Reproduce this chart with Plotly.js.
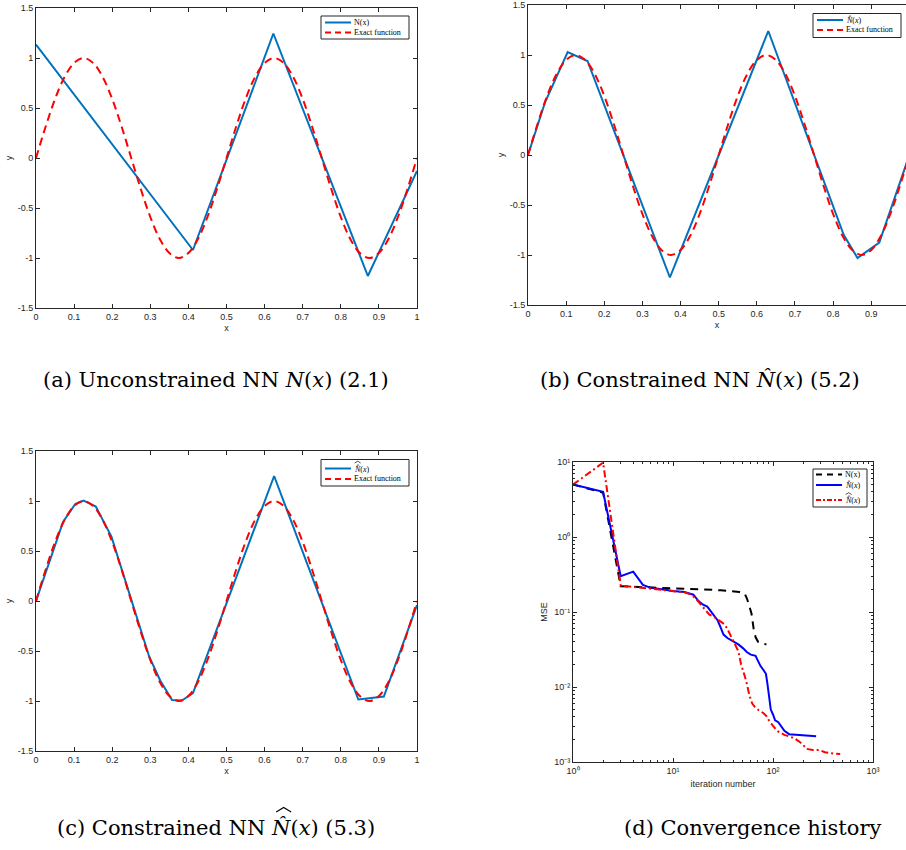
<!DOCTYPE html>
<html>
<head>
<meta charset="utf-8">
<script src="https://cdn.plot.ly/plotly-3.0.1.min.js"></script>
<style>
  html, body { margin: 0; padding: 0; background: #ffffff; overflow: hidden; }
  #chart { width: 906px; height: 850px; }
</style>
</head>
<body>
<div id="chart"></div>
<script>
// ---- reference function u(x) sampled on a uniform grid ----
const exactX = [0, 0.025, 0.05, 0.075, 0.1, 0.125, 0.15, 0.175, 0.2, 0.225,
  0.25, 0.275, 0.3, 0.325, 0.35, 0.375, 0.4, 0.425, 0.45, 0.475,
  0.5, 0.525, 0.55, 0.575, 0.6, 0.625, 0.65, 0.675, 0.7, 0.725,
  0.75, 0.775, 0.8, 0.825, 0.85, 0.875, 0.9, 0.925, 0.95, 0.975, 1];
const exactY = [0, 0.31, 0.59, 0.81, 0.95, 1, 0.95, 0.81, 0.59, 0.31,
  0, -0.31, -0.59, -0.81, -0.95, -1, -0.95, -0.81, -0.59, -0.31,
  0, 0.31, 0.59, 0.81, 0.95, 1, 0.95, 0.81, 0.59, 0.31,
  0, -0.31, -0.59, -0.81, -0.95, -1, -0.95, -0.81, -0.59, -0.31, 0];

// ---- (a) unconstrained network N(x), breakpoints of the piecewise-linear output ----
const nX = [0, 0.412, 0.623, 0.871, 1];
const nY = [1.135, -0.92, 1.245, -1.18, -0.13];

// ---- (b) constrained network N^(x) ----
const nHatX = [0, 0.045, 0.104, 0.156, 0.372, 0.630, 0.828, 0.864, 0.921, 1];
const nHatY = [0, 0.53, 1.03, 0.94, -1.225, 1.24, -0.80, -1.03, -0.875, 0];

// ---- (c) constrained network N^^(x) ----
const nHat2X = [0, 0.071, 0.103, 0.125, 0.157, 0.198, 0.297, 0.326, 0.357, 0.383, 0.412, 0.625, 0.846, 0.913, 1];
const nHat2Y = [0, 0.79, 0.97, 1.005, 0.944, 0.644, -0.555, -0.795, -0.99, -0.995, -0.92, 1.25, -0.985, -0.955, -0.04];

// ---- (d) convergence history: MSE per iteration ----
const itN = [1, 2, 3, 5, 10, 20, 30, 40, 46, 52, 55, 58, 61, 64, 67, 71, 78, 86];
const mseN = [5.0, 3.9, 0.22, 0.215, 0.21, 0.2, 0.195, 0.19, 0.185, 0.177, 0.15, 0.12, 0.095, 0.06, 0.046, 0.04, 0.038, 0.037];

const itHat = [1, 2, 3, 4, 5, 6, 8, 10, 13, 16, 18, 20, 22, 24, 26, 28, 30, 32, 35, 40,
  45, 50, 55, 60, 67, 70, 75, 80, 85, 88, 91, 95, 100, 105, 113, 120, 130, 145, 180, 230, 270];
const mseHat = [5.0, 4.0, 0.30, 0.345, 0.23, 0.21, 0.2, 0.19, 0.185, 0.17, 0.14, 0.125, 0.118, 0.1, 0.088, 0.077, 0.062, 0.05, 0.045, 0.041,
  0.037, 0.033, 0.029, 0.027, 0.026, 0.023, 0.019, 0.017, 0.015, 0.011, 0.0075, 0.005, 0.0043, 0.0036, 0.0034, 0.003, 0.0026, 0.00235, 0.0023, 0.00225, 0.0022];

const itHat2 = [1, 2, 3, 5, 7, 10, 13, 15, 17, 19, 21, 23, 26, 30, 33, 36, 39, 42, 45, 48,
  50, 54, 58, 62, 66, 72, 80, 86, 92, 100, 110, 130, 160, 180, 200, 215, 250, 290, 330, 400, 470];
const mseHat2 = [5.0, 9.8, 0.225, 0.21, 0.2, 0.19, 0.183, 0.172, 0.15, 0.125, 0.105, 0.093, 0.085, 0.075, 0.068, 0.055, 0.045, 0.037, 0.03, 0.02,
  0.017, 0.012, 0.0078, 0.006, 0.0054, 0.0049, 0.0045, 0.0041, 0.0035, 0.003, 0.0026, 0.0023, 0.0021, 0.0019, 0.0017, 0.0015, 0.00145, 0.00145, 0.00135, 0.0013, 0.00128];

// ---- tick labels ----
const xTickVals = [0, 0.1, 0.2, 0.3, 0.4, 0.5, 0.6, 0.7, 0.8, 0.9, 1];
const xTickText = ['0', '0.1', '0.2', '0.3', '0.4', '0.5', '0.6', '0.7', '0.8', '0.9', '1'];
const yTickVals = [-1.5, -1, -0.5, 0, 0.5, 1, 1.5];
const yTickText = ['-1.5', '-1', '-0.5', '0', '0.5', '1', '1.5'];
const itTickVals = [1, 10, 100, 1000];
const itTickText = ['10\u2070', '10\u00B9', '10\u00B2', '10\u00B3'];
const mseTickVals = [0.001, 0.01, 0.1, 1, 10];
const mseTickText = ['10\u207B\u00B3', '10\u207B\u00B2', '10\u207B\u00B9', '10\u2070', '10\u00B9'];

// ---- labels ----
const hat = '\u0302';
const labelN = 'N(x)';
const labelNHat = '<i>N' + hat + '</i>(<i>x</i>)';
const labelNHat2 = '<i>N' + hat + '</i>(<i>x</i>)';   // outer hat is drawn as a path on top
const labelExact = 'Exact function';
const captions = [
  '(a) Unconstrained NN <i>N</i>(<i>x</i>) (2.1)',
  '(b) Constrained NN <i>N' + hat + '</i>(<i>x</i>) (5.2)',
  '(c) Constrained NN <i>N' + hat + '</i>(<i>x</i>) (5.3)',
  '(d) Convergence history'
];

// ---- styling ----
const W = 906, H = 850;
const px = v => v / W;          // pixel column -> paper x
const py = v => 1 - v / H;      // pixel row -> paper y
const INK = '#262626';
const MATLAB_BLUE = '#0072BD';
const SANS = 'Liberation Sans, Arial, Helvetica, sans-serif';
const SERIF = 'Liberation Serif, Times New Roman, serif';
const CAPTION_SERIF = 'DejaVu Serif, Liberation Serif, serif';
const CAPTION_SIZE = 21;
const LEGEND_SIZE = 8;

// text measuring, used to place the second (wide) hat over N
const measureCtx = document.createElement('canvas').getContext('2d');
function textWidth(str, size, family, italic) {
  measureCtx.font = (italic ? 'italic ' : '') + size + 'px "' + family + '"';
  return measureCtx.measureText(str).width;
}

const axisBase = {
  showline: true, linecolor: INK, linewidth: 1, mirror: 'ticks',
  ticks: 'inside', ticklen: 4, tickwidth: 1, tickcolor: INK,
  showgrid: false, zeroline: false, automargin: false,
  tickfont: { family: SANS, size: 9, color: INK },
  fixedrange: true
};
const titleFont = { family: SANS, size: 9, color: INK };

function linX(domain, anchor, range, vals, text) {
  return Object.assign({}, axisBase, {
    domain, anchor, range, tickmode: 'array', tickvals: vals, ticktext: text,
    title: { text: 'x', font: titleFont, standoff: 3 }
  });
}
function linY(domain, anchor, mirror) {
  return Object.assign({}, axisBase, {
    domain, anchor, range: [-1.5, 1.5], tickmode: 'array',
    tickvals: yTickVals, ticktext: yTickText, mirror,
    title: { text: 'y', font: titleFont, standoff: 3 }
  });
}

const redDash = { color: '#FF0000', width: 2, dash: '8px,5px', shape: 'spline' };
const blueSolid = { color: MATLAB_BLUE, width: 2 };

const traces = [
  // (a)
  { x: nX, y: nY, xaxis: 'x', yaxis: 'y', mode: 'lines', line: blueSolid, name: labelN },
  { x: exactX, y: exactY, xaxis: 'x', yaxis: 'y', mode: 'lines', line: redDash, name: labelExact },
  // (b)
  { x: nHatX, y: nHatY, xaxis: 'x2', yaxis: 'y2', mode: 'lines', line: blueSolid, name: labelNHat },
  { x: exactX, y: exactY, xaxis: 'x2', yaxis: 'y2', mode: 'lines', line: redDash, name: labelExact },
  // (c)
  { x: nHat2X, y: nHat2Y, xaxis: 'x3', yaxis: 'y3', mode: 'lines', line: blueSolid, name: labelNHat2 },
  { x: exactX, y: exactY, xaxis: 'x3', yaxis: 'y3', mode: 'lines', line: redDash, name: labelExact },
  // (d)
  { x: itN, y: mseN, xaxis: 'x4', yaxis: 'y4', mode: 'lines', name: labelN,
    line: { color: '#000000', width: 2, dash: '8px,6px' } },
  { x: itHat, y: mseHat, xaxis: 'x4', yaxis: 'y4', mode: 'lines', name: labelNHat,
    line: { color: '#0000FF', width: 2 } },
  { x: itHat2, y: mseHat2, xaxis: 'x4', yaxis: 'y4', mode: 'lines', name: labelNHat2,
    line: { color: '#FF0000', width: 2, dash: '7px,3px,2px,3px' } }
];

const shapes = [];
const annotations = [];

// wide outer hat (a caret drawn as an open path) centred at column cx
function outerHat(cx, base, halfWidth, rise, width) {
  shapes.push({ type: 'path', xref: 'paper', yref: 'paper', layer: 'above',
    path: 'M ' + px(cx - halfWidth) + ',' + py(base) + ' L ' + px(cx) + ',' + py(base - rise) +
          ' L ' + px(cx + halfWidth) + ',' + py(base),
    line: { color: '#000000', width } });
}

// ---- hand-drawn legend boxes (MATLAB-style compact legends) ----
function legend(box, rows) {
  shapes.push({ type: 'rect', xref: 'paper', yref: 'paper', layer: 'above',
    x0: px(box.x0), x1: px(box.x1), y0: py(box.y0), y1: py(box.y1),
    line: { color: INK, width: 1 }, fillcolor: '#ffffff' });
  rows.forEach(r => {
    shapes.push({ type: 'line', xref: 'paper', yref: 'paper', layer: 'above',
      x0: px(box.s0), x1: px(box.s1), y0: py(r.y), y1: py(r.y),
      line: { color: r.color, width: 2, dash: r.dash || 'solid' } });
    annotations.push({ xref: 'paper', yref: 'paper', x: px(box.t), y: py(r.y),
      xanchor: 'left', yanchor: 'middle', showarrow: false, text: r.text,
      font: { family: SERIF, size: LEGEND_SIZE, color: '#000000' }, borderpad: 0 });
    if (r.doubleHat) {
      const wN = textWidth('N', LEGEND_SIZE, 'Liberation Serif', true);
      outerHat(box.t + 1 + wN / 2 + 1, r.y - 5.5, 3, 1.8, 0.7);
    }
  });
}
legend({ x0: 321, x1: 409, y0: 16, y1: 39, s0: 325, s1: 351, t: 353 }, [
  { y: 22.5, color: MATLAB_BLUE, text: labelN },
  { y: 32.5, color: '#FF0000', dash: '6px,4px', text: labelExact }
]);
legend({ x0: 813, x1: 901, y0: 13.5, y1: 37.5, s0: 817, s1: 843, t: 845 }, [
  { y: 20, color: MATLAB_BLUE, text: labelNHat },
  { y: 30, color: '#FF0000', dash: '6px,4px', text: labelExact }
]);
legend({ x0: 321, x1: 409, y0: 459.5, y1: 486, s0: 325, s1: 351, t: 353 }, [
  { y: 468.5, color: MATLAB_BLUE, text: labelNHat2, doubleHat: true },
  { y: 479, color: '#FF0000', dash: '6px,4px', text: labelExact }
]);
legend({ x0: 813, x1: 867, y0: 469, y1: 507, s0: 816, s1: 842, t: 844 }, [
  { y: 474.5, color: '#000000', dash: '6px,5px', text: labelN },
  { y: 485, color: '#0000FF', text: labelNHat },
  { y: 500, color: '#FF0000', dash: '5px,2px,2px,2px', text: labelNHat2, doubleHat: true }
]);

// ---- sub-figure captions ----
const capPos = [[216, 380], [700, 380], [216, 828], [752, 828]];
captions.forEach((t, i) => {
  annotations.push({ xref: 'paper', yref: 'paper', x: px(capPos[i][0]), y: py(capPos[i][1]),
    xanchor: 'center', yanchor: 'middle', showarrow: false, text: t,
    font: { family: CAPTION_SERIF, size: CAPTION_SIZE, color: '#000000' } });
});
// outer hat of caption (c): locate N inside the centred caption line
(function () {
  const f = 'DejaVu Serif', s = CAPTION_SIZE;
  const pre = textWidth('(c) Constrained NN ', s, f, false);
  const wN = textWidth('N', s, f, true);
  const total = pre + wN + textWidth('(', s, f, false) + textWidth('x', s, f, true) +
                textWidth(') (5.3)', s, f, false);
  const left = capPos[2][0] - total / 2;
  outerHat(left + pre + wN / 2 + 2.5, capPos[2][1] - 16, 7.5, 4.5, 1.1);
})();

const layout = {
  width: W, height: H,
  margin: { l: 0, r: 0, t: 0, b: 0, pad: 0 },
  paper_bgcolor: '#ffffff', plot_bgcolor: '#ffffff',
  showlegend: false,
  xaxis: linX([px(36), px(417)], 'y', [0, 1], xTickVals, xTickText),
  yaxis: linY([py(308), py(8)], 'x', 'ticks'),
  xaxis2: linX([px(528), 1], 'y2', [0, 378 / 381.4], xTickVals.slice(0, 10), xTickText.slice(0, 10)),
  yaxis2: linY([py(305), py(5)], 'x2', false),
  xaxis3: linX([px(36), px(417)], 'y3', [0, 1], xTickVals, xTickText),
  yaxis3: linY([py(751), py(451)], 'x3', 'ticks'),
  xaxis4: Object.assign({}, axisBase, {
    domain: [px(573), px(873)], anchor: 'y4', type: 'log', range: [0, 3],
    tickmode: 'array', tickvals: itTickVals, ticktext: itTickText,
    minor: { ticks: 'inside', ticklen: 2, tickcolor: INK, dtick: 'D1', showgrid: false },
    title: { text: 'iteration number', font: titleFont, standoff: 5 }
  }),
  yaxis4: Object.assign({}, axisBase, {
    domain: [py(762), py(462)], anchor: 'x4', type: 'log', range: [-3, 1],
    tickmode: 'array', tickvals: mseTickVals, ticktext: mseTickText,
    minor: { ticks: 'inside', ticklen: 2, tickcolor: INK, dtick: 'D1', showgrid: false },
    title: { text: 'MSE', font: titleFont, standoff: 5 }
  }),
  shapes, annotations
};

Plotly.newPlot('chart', traces, layout, { staticPlot: true, displayModeBar: false });
</script>
</body>
</html>
